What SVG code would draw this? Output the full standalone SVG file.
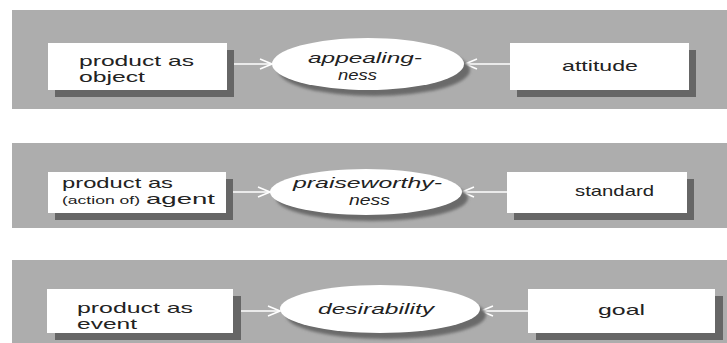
<svg xmlns="http://www.w3.org/2000/svg" width="727" height="343" viewBox="0 0 727 343">
<style>
.panel{fill:#adadad}
.box{fill:#ffffff}
.shadow{fill:#666666}
.eshadow{fill:#6a6a6a;filter:url(#blur)}
.t{font-family:"Liberation Sans",Arial,sans-serif;font-size:15px;fill:#222222}
.i{font-style:italic}
.s{font-size:11.5px}
.conn{stroke:#ffffff;stroke-width:1.5;fill:none;marker-end:url(#arr)}
</style>
<defs>
<filter id="blur" x="-10%" y="-20%" width="120%" height="140%"><feGaussianBlur stdDeviation="1.5"/></filter>
<marker id="arr" markerUnits="userSpaceOnUse" markerWidth="14" markerHeight="12" viewBox="0 0 14 12" refX="13" refY="6" orient="auto">
<path d="M1,1 L13,6 L1,11" fill="none" stroke="#ffffff" stroke-width="1.5"/>
</marker>
</defs>
<rect class="panel" x="12" y="10" width="715" height="99"/>
<rect class="panel" x="12" y="143" width="715" height="85"/>
<rect class="panel" x="12" y="260" width="715" height="83"/>
<g id="connectors">
<line class="conn" x1="227" y1="64" x2="272" y2="64"/>
<line class="conn" x1="510" y1="64" x2="465" y2="64"/>
<line class="conn" x1="226" y1="192" x2="270" y2="192"/>
<line class="conn" x1="507" y1="192" x2="462" y2="192"/>
<line class="conn" x1="233" y1="311" x2="280" y2="311"/>
<line class="conn" x1="528" y1="311" x2="481" y2="311"/>
</g>
<g id="product-object">
<rect class="shadow" x="55" y="50" width="179" height="47"/>
<rect class="box" x="48" y="43" width="179" height="47"/>
<text class="t" x="79" y="66" textLength="115" lengthAdjust="spacingAndGlyphs">product as</text>
<text class="t" x="79" y="82" textLength="66" lengthAdjust="spacingAndGlyphs">object</text>
</g>
<g id="appealingness">
<ellipse class="eshadow" cx="374" cy="70" rx="96" ry="26"/>
<ellipse class="box" cx="368" cy="64" rx="96" ry="26"/>
<text class="t i" x="308" y="63" textLength="114" lengthAdjust="spacingAndGlyphs">appealing-</text>
<text class="t i" x="338" y="80" textLength="39" lengthAdjust="spacingAndGlyphs">ness</text>
</g>
<g id="attitude">
<rect class="shadow" x="517" y="50" width="179" height="47"/>
<rect class="box" x="510" y="43" width="179" height="47"/>
<text class="t" x="562" y="71" textLength="76" lengthAdjust="spacingAndGlyphs">attitude</text>
</g>
<g id="product-agent">
<rect class="shadow" x="55" y="179" width="178" height="41"/>
<rect class="box" x="48" y="172" width="178" height="41"/>
<text class="t" x="62" y="188" textLength="111" lengthAdjust="spacingAndGlyphs">product as</text>
<text class="t s" x="62" y="204" textLength="78" lengthAdjust="spacingAndGlyphs">(action of)</text>
<text class="t" x="146" y="204" textLength="69" lengthAdjust="spacingAndGlyphs">agent</text>
</g>
<g id="praiseworthyness">
<ellipse class="eshadow" cx="372" cy="198" rx="96" ry="23"/>
<ellipse class="box" cx="366" cy="192" rx="96" ry="23"/>
<text class="t i" x="293" y="188" textLength="149" lengthAdjust="spacingAndGlyphs">praiseworthy-</text>
<text class="t i" x="349" y="205" textLength="41" lengthAdjust="spacingAndGlyphs">ness</text>
</g>
<g id="standard">
<rect class="shadow" x="514" y="179" width="180" height="41"/>
<rect class="box" x="507" y="172" width="180" height="41"/>
<text class="t" x="575" y="196" textLength="79" lengthAdjust="spacingAndGlyphs">standard</text>
</g>
<g id="product-event">
<rect class="shadow" x="55" y="296" width="186" height="44"/>
<rect class="box" x="47" y="289" width="186" height="44"/>
<text class="t" x="77" y="313" textLength="116" lengthAdjust="spacingAndGlyphs">product as</text>
<text class="t" x="77" y="329" textLength="60" lengthAdjust="spacingAndGlyphs">event</text>
</g>
<g id="desirability">
<ellipse class="eshadow" cx="386" cy="315" rx="100" ry="24"/>
<ellipse class="box" cx="380" cy="309" rx="100" ry="24"/>
<text class="t i" x="318" y="314" textLength="116" lengthAdjust="spacingAndGlyphs">desirability</text>
</g>
<g id="goal">
<rect class="shadow" x="536" y="296" width="187" height="44"/>
<rect class="box" x="528" y="289" width="187" height="44"/>
<text class="t" x="598" y="315" textLength="47" lengthAdjust="spacingAndGlyphs">goal</text>
</g>
</svg>
